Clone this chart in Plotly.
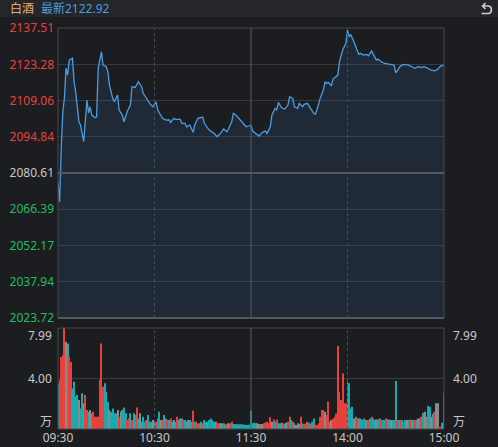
import plotly.graph_objects as go

# 白酒 intraday: minute index (0 = 09:30, 240 = 15:00) and price
minute = [0, 1, 2, 3, 4, 5, 6, 7, 9, 10, 11, 13, 14, 16, 18, 19, 20, 21, 23, 24,
          25, 27, 28, 30, 31, 32, 34, 35, 37, 38, 40, 41, 43, 45, 46, 48, 50, 52, 53, 55,
          57, 59, 61, 62, 64, 65, 67, 69, 70, 72, 73, 76, 77, 79, 80, 82, 84, 85, 87, 88,
          90, 91, 93, 94, 97, 99, 101, 103, 105, 106, 108, 109, 111, 113, 115, 117, 119, 120, 121, 123,
          125, 127, 129, 130, 132, 133, 135, 136, 137, 139, 141, 143, 144, 146, 147, 149, 150, 152, 153, 155,
          157, 159, 160, 161, 163, 165, 166, 167, 168, 170, 171, 172, 174, 175, 176, 177, 179, 180, 181, 182,
          184, 185, 187, 188, 190, 192, 193, 195, 196, 198, 199, 201, 203, 205, 207, 209, 210, 212, 213, 215,
          218, 220, 222, 224, 226, 228, 230, 232, 234, 236, 238, 240]
price = [2077.08, 2069.23, 2090.40, 2104.66, 2110.03, 2121.80, 2119.05, 2124.94, 2125.72, 2116.42,
         2112.50, 2100.73, 2099.44, 2092.89, 2109.25, 2104.15, 2106.62, 2103.36, 2102.30, 2102.69,
         2121.80, 2128.19, 2122.98, 2122.31, 2120.35, 2115.13, 2109.91, 2108.58, 2111.21, 2105.33,
         2103.36, 2100.73, 2104.66, 2107.29, 2114.46, 2114.20, 2116.42, 2114.46, 2111.88, 2109.91,
         2107.95, 2106.62, 2108.58, 2105.33, 2103.09, 2102.07, 2101.40, 2101.50, 2100.50, 2102.07,
         2101.68, 2101.68, 2100.11, 2100.11, 2098.77, 2099.44, 2096.58, 2099.44, 2102.07, 2102.20,
         2102.58, 2100.11, 2098.14, 2097.48, 2096.18, 2094.85, 2096.18, 2097.87, 2096.81, 2097.87,
         2100.73, 2104.03, 2103.09, 2101.68, 2100.11, 2098.77, 2099.16, 2099.44, 2097.09, 2096.18,
         2095.12, 2096.58, 2097.09, 2096.18, 2098.77, 2103.36, 2105.99, 2105.33, 2108.34, 2106.23,
         2105.72, 2107.29, 2110.54, 2109.91, 2106.62, 2105.99, 2107.95, 2106.62, 2107.56, 2107.95,
         2105.99, 2104.03, 2103.64, 2105.33, 2109.91, 2113.17, 2116.42, 2115.80, 2116.19, 2114.86,
         2117.48, 2117.99, 2119.05, 2124.27, 2126.90, 2128.86, 2131.49, 2136.70, 2134.08, 2135.02,
         2132.12, 2130.15, 2127.17, 2127.57, 2126.90, 2127.17, 2126.62, 2128.47, 2127.17, 2124.94,
         2125.33, 2124.27, 2123.64, 2123.50, 2123.37, 2122.98, 2119.96, 2121.68, 2122.70, 2123.25,
         2122.98, 2122.31, 2121.68, 2122.31, 2122.07, 2122.31, 2121.68, 2121.02, 2120.74, 2121.29,
         2122.70, 2122.92]

# volume per minute (万)
vol = [3.6, 3.9, 5.7, 5.85, 7.99, 6.9, 6.77, 5.72, 5.3, 3.2,
       3.74, 2.56, 2.69, 2.3, 1.63, 2.82, 2.03, 2.69, 1.5, 1.37,
       1.5, 1.24, 1.37, 0.97, 0.97, 0.97, 3.87, 6.77, 3.35, 3.61,
       2.95, 2.16, 1.5, 1.37, 1.63, 1.24, 1.24, 1.5, 0.97, 1.37,
       1.5, 1.71, 1.24, 0.71, 0.84, 1.24, 0.71, 1.24, 1.1, 1.71,
       0.84, 1.24, 0.58, 0.97, 0.58, 0.71, 1.1, 0.58, 0.58, 0.71,
       0.58, 0.58, 0.84, 1.37, 0.71, 0.71, 1.1, 0.84, 0.71, 0.71,
       0.84, 0.58, 0.71, 0.58, 0.97, 0.71, 0.84, 0.84, 0.71, 0.71,
       0.58, 0.71, 0.71, 0.58, 1.45, 0.58, 0.58, 0.45, 0.45, 0.58,
       0.45, 0.71, 0.58, 0.58, 0.71, 0.84, 0.71, 0.58, 0.58, 0.45,
       0.45, 0.45, 0.45, 0.45, 0.37, 0.37, 0.45, 0.45, 0.58, 0.39,
       0.39, 0.37, 0.37, 0.37, 0.37, 0.35, 0.33, 0.31, 0.31, 0.33,
       1.45, 0.45, 0.5, 0.45, 0.45, 0.39, 0.37, 0.39, 0.45, 0.5,
       0.58, 0.45, 0.92, 0.58, 0.76, 0.58, 0.76, 0.45, 0.45, 0.5,
       0.45, 0.39, 0.5, 0.58, 0.97, 0.71, 0.58, 0.45, 0.31, 0.45,
       0.39, 0.97, 0.45, 0.39, 0.45, 0.58, 0.5, 0.39, 0.58, 0.84,
       0.31, 0.31, 0.45, 0.97, 1.5, 1.5, 1.37, 1.1, 2.16, 0.58,
       0.71, 0.84, 0.97, 1.2, 6.56, 2.95, 2.29, 4.4, 2.03, 2.03,
       3.74, 3.61, 1.63, 1.76, 0.84, 0.97, 0.84, 0.84, 0.84, 0.76,
       0.84, 0.76, 0.71, 0.71, 0.84, 0.97, 0.84, 0.71, 0.76, 0.76,
       0.84, 0.71, 0.71, 0.71, 0.84, 0.76, 0.76, 0.71, 0.71, 0.71,
       3.8, 0.71, 0.71, 0.71, 0.71, 0.58, 0.71, 0.71, 0.71, 0.76,
       0.71, 0.71, 0.71, 0.71, 0.84, 0.84, 0.97, 1.29, 1.37, 0.97,
       1.82, 1.76, 0.97, 1.18, 1.37, 2.03, 2.03, 0.18, 0.18, 0.5, 2.87]
# bar direction per minute: r = up, g = down, n = flat
vol_dir_rows = [
    "grrrrngrrg", "gggnggnrrg", "ngrrrrrrrg", "ggnggggnrn", "gggrrgrggr",
    "gngggrgggn", "grggnrggrg", "rgngrnggrg", "gnggrgrrrg", "rggngggg" "nr",
    "rgnrgrnrrg", "gggggggggg", "ggggnnnnrr", "rrrnrgrggn", "rgnrrgrgng",
    "nrgrrrgrgg", "rrrrrrnrrg", "nrrrrrrrrr", "ggggngrngg", "rgnrgrggng",
    "grggrggngg", "grgrgrgngr", "ngrgngrgnn", "ggngrnnrrgr",
]
vol_dir = list("".join(vol_dir_rows))

prev_close = 2080.61
price_ticks = [2023.72, 2037.94, 2052.17, 2066.39, 2080.61, 2094.84, 2109.06, 2123.28, 2137.51]
pct_labels = ["-2.73%", "-2.05%", "-1.37%", "-0.68%", "0.00%", "0.68%", "1.37%", "2.05%", "2.73%"]
time_ticks = [0, 60, 120, 180, 240]
time_labels = ["09:30", "10:30", "11:30", "14:00", "15:00"]

RED = "#e8413c"
GREEN = "#1fbf5f"
WHITE = "#c8c8c8"
BAR_COLORS = {"r": "#e8413c", "g": "#17aab0", "n": "#8a8a8a"}
GRID = "#37393e"
BORDER = "#45484d"
BG = "#1c1d21"
FONT = "Noto Sans, Noto Sans CJK SC, sans-serif"


def tick_color(v):
    if v > prev_close:
        return RED
    if v < prev_close:
        return GREEN
    return WHITE


left_text = [f'<span style="color:{tick_color(v)}">{v:.2f}</span>' for v in price_ticks]
right_text = [f'<span style="color:{tick_color(v)}">{t}</span>' for v, t in zip(price_ticks, pct_labels)]

fig = go.Figure()

fig.add_trace(
    go.Scatter(
        x=minute,
        y=price,
        mode="lines",
        line=dict(color="#4a9de0", width=1.3),
        fill="tozeroy",
        fillcolor="rgba(60,130,200,0.13)",
        hoverinfo="skip",
        xaxis="x",
        yaxis="y",
    )
)

fig.add_trace(
    go.Bar(
        x=list(range(len(vol))),
        y=vol,
        marker=dict(color=[BAR_COLORS[d] for d in vol_dir], line_width=0),
        hoverinfo="skip",
        xaxis="x2",
        yaxis="y3",
    )
)

main_bottom = 111 / 401
vol_top = 101 / 401


def px(x):
    return (x - 58) / 386


def py(y):
    return (429 - y) / 401


shapes = [
    # header strip
    dict(type="rect", xref="paper", yref="paper", x0=px(0), x1=px(498),
         y0=py(17), y1=py(-1), fillcolor="#25262a", line_width=0, layer="below"),
    # panel borders
    dict(type="rect", xref="x domain", yref="y domain", x0=0, x1=1, y0=0, y1=1,
         line=dict(color=BORDER, width=1)),
    dict(type="rect", xref="x2 domain", yref="y3 domain", x0=0, x1=1, y0=0, y1=1,
         line=dict(color=BORDER, width=1)),
    dict(type="line", xref="x domain", yref="y domain", x0=0, x1=1, y0=0, y1=0,
         line=dict(color="#55585e", width=2)),
    # previous close line
    dict(type="line", xref="x domain", yref="y", x0=0, x1=1, y0=prev_close, y1=prev_close,
         line=dict(color="#55585e", width=2)),
]
for xv, dash, col in [(60, "3px,3px", "#4a4d52"), (120, "solid", "#5a5d62"), (180, "3px,3px", "#4a4d52")]:
    shapes.append(dict(type="line", xref="x", yref="y domain", x0=xv, x1=xv, y0=0, y1=1,
                       line=dict(color=col, width=1, dash=dash)))
    shapes.append(dict(type="line", xref="x2", yref="y3 domain", x0=xv, x1=xv, y0=0, y1=1,
                       line=dict(color=col, width=1, dash=dash)))

# return icon in the header
shapes.append(dict(
    type="path", xref="paper", yref="paper",
    path=(f"M{px(483)},{py(6)} L{px(488)},{py(6)} "
          f"C{px(492.5)},{py(6)} {px(492.5)},{py(13.5)} {px(488)},{py(13.5)} L{px(481.5)},{py(13.5)}"),
    line=dict(color="#d0d0d0", width=1.6),
))
shapes.append(dict(
    type="path", xref="paper", yref="paper",
    path=f"M{px(485.5)},{py(3)} L{px(482.5)},{py(6)} L{px(485.5)},{py(9)}",
    line=dict(color="#d0d0d0", width=1.6),
))

annotations = [
    dict(text="白酒", xref="paper", yref="paper", x=px(8), y=py(9), xanchor="left", yanchor="middle",
         showarrow=False, font=dict(color="#e2ad78", size=12, family=FONT)),
    dict(text="最新2122.92", xref="paper", yref="paper", x=px(39), y=py(9), xanchor="left",
         yanchor="middle", showarrow=False, font=dict(color="#4a9de0", size=12, family=FONT)),
]
for v, label in [(7.36, "7.99"), (4.0, "4.00"), (0.58, "万")]:
    annotations.append(dict(text=label, xref="paper", yref="y3", x=px(54), y=v, xanchor="right",
                            yanchor="middle", showarrow=False, font=dict(color=WHITE, size=12, family=FONT)))
    annotations.append(dict(text=label, xref="paper", yref="y3", x=px(451), y=v, xanchor="left",
                            yanchor="middle", showarrow=False, font=dict(color=WHITE, size=12, family=FONT)))

fig.update_layout(
    width=498,
    height=447,
    margin=dict(l=58, r=54, t=28, b=18),
    paper_bgcolor=BG,
    plot_bgcolor=BG,
    showlegend=False,
    bargap=0.38,
    font=dict(family=FONT, size=12, color=WHITE),
    xaxis=dict(domain=[0, 1], range=[0, 240], anchor="y", showticklabels=False,
               showgrid=False, zeroline=False, automargin=False),
    xaxis2=dict(domain=[0, 1], range=[0, 240], anchor="y3", tickvals=time_ticks,
                ticktext=time_labels, showgrid=False, zeroline=False, ticks="",
                tickfont=dict(color=WHITE, size=12), automargin=False),
    yaxis=dict(domain=[main_bottom, 1], range=[2023.70, 2137.53], tickvals=price_ticks,
               ticktext=left_text, showgrid=True, gridcolor=GRID, gridwidth=1,
               zeroline=False, ticks="", ticklabelstandoff=3, tickfont=dict(size=12),
               automargin=False),
    yaxis2=dict(overlaying="y", side="right", range=[2023.70, 2137.53], tickvals=price_ticks,
                ticktext=right_text, showgrid=False, zeroline=False, ticks="",
                ticklabelstandoff=6, tickfont=dict(size=12), automargin=False),
    yaxis3=dict(domain=[0, vol_top], range=[0, 7.99], tickvals=[4.0], showticklabels=False,
                showgrid=True, gridcolor=GRID, zeroline=False, ticks="", automargin=False),
    shapes=shapes,
    annotations=annotations,
)

fig.write_html(
    "out.html",
    config={"displayModeBar": False},
    post_script="document.body.style.margin='0';document.body.style.background='#1c1d21';",
)
